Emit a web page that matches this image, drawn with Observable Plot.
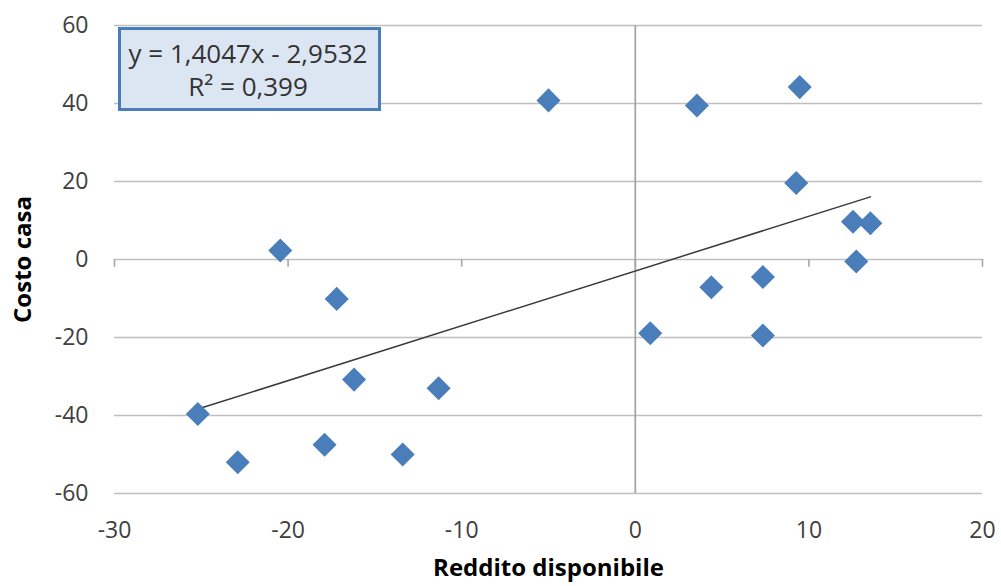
<!DOCTYPE html>
<html><head><meta charset="utf-8">
<script src="https://cdn.jsdelivr.net/npm/d3@7"></script>
<script src="https://cdn.jsdelivr.net/npm/@observablehq/plot@0.6"></script>
<style>body{margin:0;background:#fff}</style></head>
<body><div id="chart"></div>
<script>
const redditoDisponibile = [-5.0, 3.55, 9.47, 9.27, 12.54, 13.54, 12.73, 7.35, 4.38, 0.86, 7.35, -20.45, -17.2, -16.2, -11.33, -25.2, -22.9, -17.9, -13.4];
const costoCasa = [40.8, 39.5, 44.2, 19.6, 9.7, 9.3, -0.5, -4.5, -7.1, -18.9, -19.5, 2.3, -10.1, -30.8, -33.0, -39.6, -52.0, -47.5, -50.0];
const xTicks = [-30, -20, -10, 0, 10, 20];
const yTicks = [-60, -40, -20, 0, 20, 40, 60];
const slope = 1.4047, intercept = -2.9532;
const equationLines = ["y = 1,4047x - 2,9532", "R² = 0,399"];
const xTitle = "Reddito disponibile";
const yTitle = "Costo casa";

const points = redditoDisponibile.map((x, i) => ({x, y: costoCasa[i]}));
const trend = d3.extent(redditoDisponibile).map(x => ({x, y: slope * x + intercept}));
const font = "'Open Sans', sans-serif";
const fmt = d => String(d);

const chart = Plot.plot({
  width: 1001, height: 586,
  marginLeft: 114, marginRight: 19, marginTop: 25, marginBottom: 93,
  style: {fontFamily: font, fontSize: "23px", color: "#404040", background: "#fff"},
  x: {domain: [-30, 20], ticks: xTicks},
  y: {domain: [-60, 60], ticks: yTicks},
  marks: [
    Plot.gridY(yTicks, {stroke: "#bfbfbf", strokeOpacity: 1, strokeWidth: 1.6}),
    Plot.ruleX([0], {stroke: "#a6a6a6", strokeWidth: 1.8}),
    Plot.ruleX(xTicks, {y1: 0, y2: -2, stroke: "#a6a6a6", strokeWidth: 1.6}),
    Plot.axisY(yTicks, {tickSize: 0, tickPadding: 26, label: null, tickFormat: fmt}),
    Plot.axisX(xTicks, {tickSize: 0, tickPadding: 28, label: null, tickFormat: fmt}),
    Plot.line(trend, {x: "x", y: "y", stroke: "#3a3a3a", strokeWidth: 1.5}),
    Plot.dot(points, {x: "x", y: "y", symbol: "square", r: 9.6, rotate: 45, fill: "#4a7ebb", stroke: "none"}),
    Plot.text([xTitle], {text: d => d, frameAnchor: "bottom", lineAnchor: "middle", dy: 75, fontWeight: "bold", fontSize: 24, fill: "#000"}),
    Plot.text([yTitle], {text: d => d, frameAnchor: "left", textAnchor: "middle", lineAnchor: "middle", dx: -91, rotate: -90, fontWeight: "bold", fontSize: 24, fill: "#000"})
  ]
});

const svg = d3.select(chart);
const g = svg.append("g").attr("font-family", font).attr("font-size", 26).attr("fill", "#333");
g.append("rect").attr("x", 119.5).attr("y", 28.5).attr("width", 260).attr("height", 81)
  .attr("fill", "#dce6f2").attr("stroke", "#4a7ebb").attr("stroke-width", 3);
g.selectAll("text.eq").data(equationLines).join("text")
  .attr("x", 248).attr("y", (d, i) => 63 + i * 33)
  .attr("text-anchor", "middle").attr("fill", "#333").text(d => d);

document.getElementById("chart").appendChild(chart);
</script></body></html>
